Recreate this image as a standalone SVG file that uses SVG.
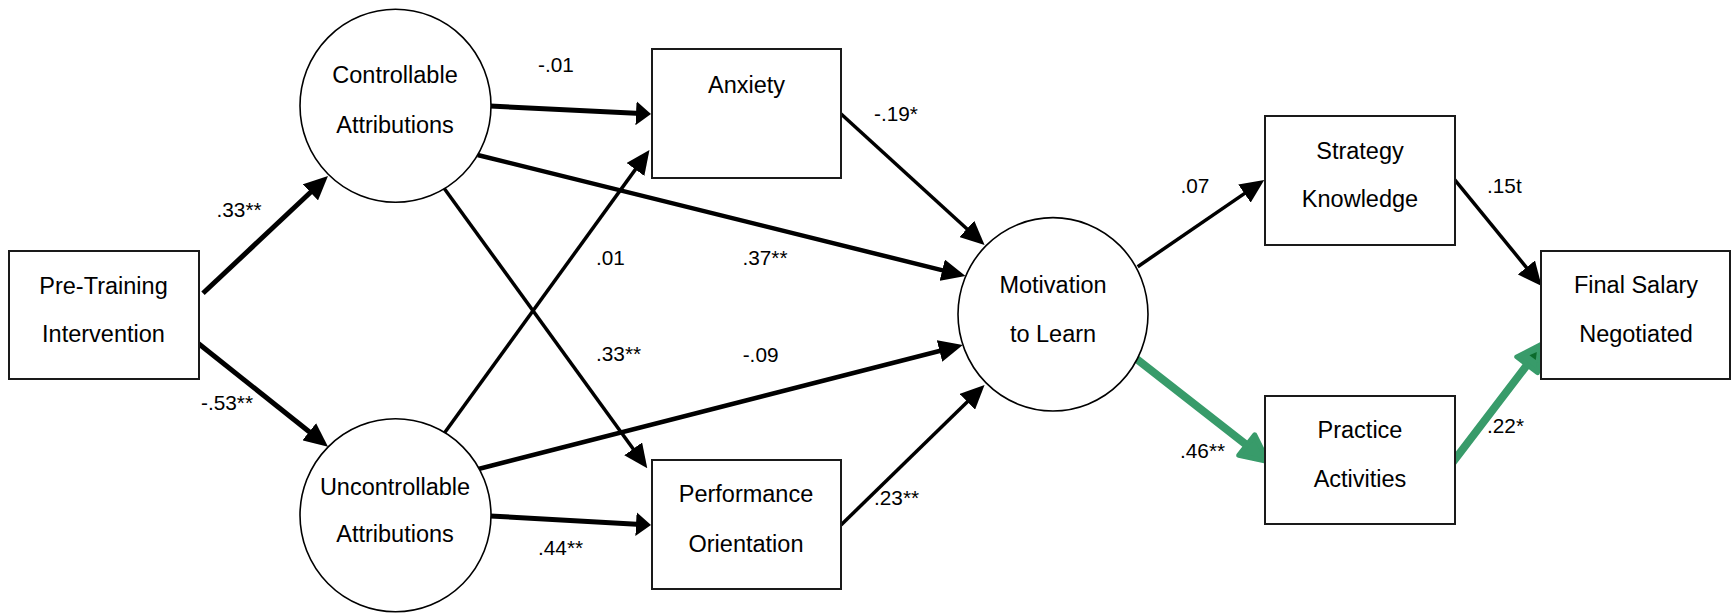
<svg xmlns="http://www.w3.org/2000/svg" width="1732" height="613" viewBox="0 0 1732 613">
<style>
.node rect{fill:#fff;stroke:#1a1a1a;stroke-width:2}
.node ellipse{fill:#fff;stroke:#000;stroke-width:1.6}
.node text{font-family:"Liberation Sans",Arial,sans-serif;font-size:23.5px;fill:#000;text-anchor:middle}
.lbl{font-family:"Liberation Sans",Arial,sans-serif;font-size:20.8px;fill:#000}
.c{fill:none;stroke:#000;marker-end:url(#ah)}
.s{marker-end:url(#ahs)}
.g{fill:none;stroke:#389b6a;stroke-width:8;stroke-linecap:round;marker-end:url(#gh)}
</style>
<defs>
<marker id="ah" markerUnits="userSpaceOnUse" markerWidth="24" markerHeight="22" refX="14" refY="11" orient="auto" viewBox="0 0 24 22"><path d="M0,0 L24,11 L0,22 z" fill="#000"/></marker>
<marker id="ahs" markerUnits="userSpaceOnUse" markerWidth="15" markerHeight="24" refX="5" refY="12" orient="auto" viewBox="0 0 15 24"><path d="M0,0 L15,12 L0,24 z" fill="#000"/></marker>
<marker id="gh" markerUnits="userSpaceOnUse" markerWidth="34" markerHeight="34" refX="14" refY="17" orient="auto" viewBox="0 0 34 34"><path d="M3,4 L30,17 L3,30 z" fill="#389b6a" stroke="#389b6a" stroke-width="5" stroke-linejoin="round"/></marker>
<marker id="gh2" markerUnits="userSpaceOnUse" markerWidth="34" markerHeight="34" refX="14" refY="17" orient="auto" viewBox="0 0 34 34"><path d="M3,4 L30,17 L3,30 z" fill="#389b6a" stroke="#389b6a" stroke-width="5" stroke-linejoin="round"/><path d="M12,13 L19,17 L12,21 z" fill="#0b6b2c"/></marker>
</defs>
<rect width="1732" height="613" fill="#fff"/>
<g id="connectors">
<line class="c" x1="203" y1="293.3" x2="320.7" y2="182.8" stroke-width="5"/>
<line class="c" x1="194" y1="340" x2="320.2" y2="440.5" stroke-width="5"/>
<line class="c s" x1="490" y1="106" x2="641" y2="113.5" stroke-width="5"/>
<line class="c" x1="477.6" y1="155" x2="955.8" y2="273.6" stroke-width="4.5"/>
<line class="c" x1="443" y1="186.7" x2="641.4" y2="460.2" stroke-width="3.5"/>
<line class="c" x1="440.6" y1="438.3" x2="643.6" y2="158.1" stroke-width="3.5"/>
<line class="c" x1="474.5" y1="470" x2="953.1" y2="347.5" stroke-width="4.5"/>
<line class="c s" x1="490" y1="516" x2="641" y2="524.4" stroke-width="5"/>
<line class="c" x1="840.3" y1="113.3" x2="977.2" y2="238.3" stroke-width="3.5"/>
<line class="c" x1="841" y1="525" x2="977.4" y2="392" stroke-width="3.5"/>
<line class="c" x1="1137.7" y1="266.7" x2="1256" y2="185.6" stroke-width="3.5"/>
<line class="c" x1="1454.4" y1="179.3" x2="1535.3" y2="278.3" stroke-width="3.5"/>
<line class="g" x1="1135.8" y1="358.3" x2="1255.4" y2="451.8"/>
<line class="g" x1="1452.5" y1="462.7" x2="1533.8" y2="356" marker-end="url(#gh2)" style="marker-end:url(#gh2)"/>
<text class="lbl" x="216.5" y="216.7">.33**</text>
<text class="lbl" x="201" y="410">-.53**</text>
<text class="lbl" x="538" y="71.7">-.01</text>
<text class="lbl" x="596" y="265">.01</text>
<text class="lbl" x="596" y="360.7">.33**</text>
<text class="lbl" x="538" y="555">.44**</text>
<text class="lbl" x="874" y="120.7">-.19*</text>
<text class="lbl" x="742.4" y="265">.37**</text>
<text class="lbl" x="742.7" y="361.7">-.09</text>
<text class="lbl" x="874" y="505">.23**</text>
<text class="lbl" x="1180.4" y="192.7">.07</text>
<text class="lbl" x="1180" y="458.3">.46**</text>
<text class="lbl" x="1487" y="193.3">.15t</text>
<text class="lbl" x="1487" y="433.3">.22*</text>
</g>
<g id="pre-training" class="node"><rect x="9" y="251" width="190" height="128"/><text x="103.5" y="294">Pre-Training</text><text x="103.5" y="341.7">Intervention</text></g>
<g id="controllable" class="node"><ellipse cx="395.5" cy="105.8" rx="95.5" ry="96.5"/><text x="395" y="83">Controllable</text><text x="395" y="132.7">Attributions</text></g>
<g id="uncontrollable" class="node"><ellipse cx="395.5" cy="515.3" rx="95.5" ry="96.5"/><text x="395" y="495">Uncontrollable</text><text x="395" y="542.3">Attributions</text></g>
<g id="anxiety" class="node"><rect x="652" y="49" width="189" height="129"/><text x="746.5" y="92.7">Anxiety</text></g>
<g id="performance" class="node"><rect x="652" y="460" width="189" height="129"/><text x="746" y="502.3">Performance</text><text x="746" y="551.7">Orientation</text></g>
<g id="motivation" class="node"><ellipse cx="1053" cy="314.3" rx="95" ry="96.7"/><text x="1053" y="293.3">Motivation</text><text x="1053" y="341.7">to Learn</text></g>
<g id="strategy" class="node"><rect x="1265" y="116" width="190" height="129"/><text x="1360" y="159.3">Strategy</text><text x="1360" y="206.7">Knowledge</text></g>
<g id="practice" class="node"><rect x="1265" y="396" width="190" height="128"/><text x="1360" y="437.7">Practice</text><text x="1360" y="486.7">Activities</text></g>
<g id="final-salary" class="node"><rect x="1541" y="251" width="189" height="128"/><text x="1636" y="293.3">Final Salary</text><text x="1636" y="341.7">Negotiated</text></g>
</svg>
